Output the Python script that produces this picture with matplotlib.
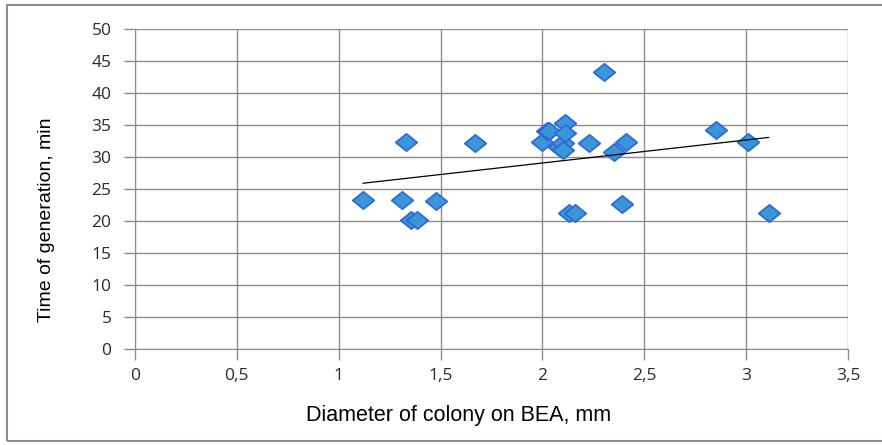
import numpy as np
import matplotlib
matplotlib.use("Agg")
import matplotlib.pyplot as plt
from matplotlib.path import Path
from matplotlib.patches import Rectangle
from matplotlib.ticker import FuncFormatter

# диаметр колонии, мм / время генерации, мин
diameter = [1.12, 1.31, 1.33, 1.355, 1.385, 1.48, 1.67,
            2.00, 2.02, 2.03, 2.08, 2.10, 2.10, 2.11, 2.11, 2.13, 2.16,
            2.23, 2.30, 2.35, 2.39, 2.41, 2.85, 3.01, 3.11]
gen_time = [23.3, 23.3, 32.3, 20.2, 20.2, 23.2, 32.2,
            32.3, 34.0, 34.0, 31.6, 32.2, 31.1, 35.3, 33.7, 21.3, 21.3,
            32.2, 43.3, 30.8, 22.7, 32.4, 34.2, 32.4, 21.2]

x_ticks = [0, 0.5, 1, 1.5, 2, 2.5, 3, 3.5]
y_ticks = [0, 5, 10, 15, 20, 25, 30, 35, 40, 45, 50]

W, H = 882, 445
fig = plt.figure(figsize=(W / 100, H / 100), dpi=100)
ax = fig.add_axes([135 / W, 1 - 349 / H, (848 - 135) / W, (349 - 29) / H])

# ромбик, чуть сплюснутый как в excel
diamond = Path([(-1, 0), (0, 0.8), (1, 0), (0, -0.8), (-1, 0)],
               [Path.MOVETO, Path.LINETO, Path.LINETO, Path.LINETO, Path.CLOSEPOLY])

ax.plot(diameter, gen_time, linestyle='none', marker=diamond, markersize=15.5,
        markerfacecolor='#3A96D6', markeredgecolor='#2E6AD8', markeredgewidth=1.3, zorder=3)

# линия тренда
k, b = np.polyfit(diameter, gen_time, 1)
xs = np.array([min(diameter), max(diameter)])
ax.plot(xs, k * xs + b, color='black', linewidth=0.9, zorder=4)

ax.set_xlim(0, 3.5)
ax.set_ylim(0, 50)
ax.set_xticks(x_ticks)
ax.set_yticks(y_ticks)
ax.xaxis.set_major_formatter(FuncFormatter(lambda v, p: ('%g' % v).replace('.', ',')))
ax.grid(True, color='#8c8c8c', linewidth=1.0)
ax.set_axisbelow(True)
for s in ['top', 'right']:
    ax.spines[s].set_visible(False)
for s in ['left', 'bottom']:
    ax.spines[s].set_color('#8c8c8c')
ax.tick_params(axis='both', colors='#8c8c8c', length=8, width=1.0)
ax.tick_params(axis='y', pad=9)
ax.tick_params(axis='x', pad=6)
for t in ax.get_xticklabels() + ax.get_yticklabels():
    t.set_color('#2b2b2b')
    t.set_fontsize(12.5)
    t.set_family(['Open Sans', 'DejaVu Sans'])

lab_font = ['Liberation Sans Narrow', 'Liberation Sans', 'DejaVu Sans']
fig.text(47 / W, 1 - 220 / H, 'Time of generation, min', rotation=90,
         ha='center', va='center', fontsize=14, family=lab_font)
fig.text(459 / W, 1 - 415 / H, 'Diameter of colony on BEA, mm',
         ha='center', va='center', fontsize=15.5, family=lab_font)

# рамка вокруг картинки
fig.patches.append(Rectangle((7 / W, 1 - 441 / H), 1.0, (441 - 5) / H,
                             transform=fig.transFigure, fill=False,
                             edgecolor='#8c8c8c', linewidth=1.5))

fig.savefig('out.png', dpi=100)
